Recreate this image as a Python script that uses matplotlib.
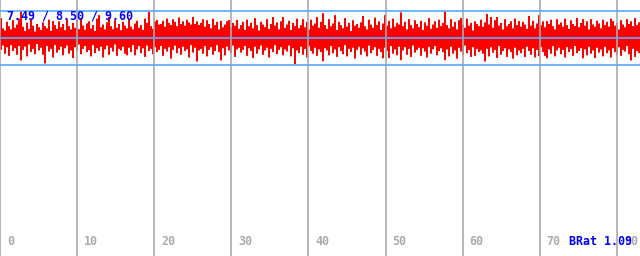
import matplotlib
matplotlib.use("Agg")
import matplotlib.pyplot as plt
import numpy as np

# peak amplitude per sample, in percent of full scale (blue line = 100)
upper = [
    72, 34, 26, 58, 42, 30, 64, 36, 48, 70, 97, 40, 24, 55, 32, 70, 44, 22, 50, 38,
    28, 56, 42, 34, 66, 25, 61, 46, 32, 60, 38, 50, 27, 68, 42, 30, 54, 36, 64, 31,
    72, 44, 29, 52, 60, 33, 46, 24, 70, 83, 38, 48, 30, 56, 76, 42, 31, 64, 36, 50,
    27, 58, 44, 34, 68, 40, 30, 52, 62, 36, 46, 28, 70, 54, 96, 42, 32, 60, 65, 48,
    50, 62, 40, 70, 54, 46, 68, 58, 42, 74, 50, 60, 44, 66, 56, 48, 76, 50, 60, 46,
    54, 68, 40, 64, 50, 34, 70, 46, 58, 30, 62, 38, 48, 60, 65, 36, 54, 44, 65, 32,
    46, 58, 28, 66, 42, 54, 34, 72, 46, 26, 58, 48, 38, 68, 32, 50, 76, 44, 56, 30,
    60, 76, 36, 48, 62, 28, 54, 42, 70, 34, 46, 68, 38, 58, 30, 66, 44, 52, 76, 36,
    58, 90, 46, 32, 68, 42, 52, 83, 28, 58, 46, 34, 72, 40, 54, 24, 64, 44, 50, 36,
    56, 80, 42, 30, 66, 48, 36, 74, 46, 60, 28, 52, 83, 44, 62, 34, 70, 40, 54, 48,
    93, 42, 58, 30, 68, 46, 34, 64, 50, 38, 62, 28, 56, 44, 72, 32, 48, 60, 36, 66,
    42, 54, 98, 46, 34, 68, 40, 58, 30, 64, 72, 48, 36, 70, 44, 54, 26, 60, 50, 42,
    66, 40, 56, 87, 48, 76, 36, 64, 76, 44, 54, 30, 68, 42, 50, 60, 34, 70, 46, 61,
    40, 58, 48, 32, 80, 44, 62, 34, 52, 83, 46, 60, 38, 61, 50, 66, 42, 30, 68, 48,
    56, 40, 70, 46, 32, 64, 50, 42, 72, 38, 54, 68, 44, 60, 30, 68, 48, 40, 62, 52,
    34, 66, 46, 58, 40, 70, 61, 44, 54, 30, 64, 48, 38, 68, 50, 60, 42, 72, 46, 56,
]
lower = [
    46, 30, 60, 36, 68, 28, 50, 40, 64, 32, 85, 46, 34, 70, 26, 54, 42, 62, 24, 48,
    38, 64, 96, 32, 52, 42, 74, 28, 56, 46, 34, 66, 40, 30, 60, 48, 76, 36, 50, 26,
    62, 42, 32, 54, 46, 70, 28, 58, 40, 50, 34, 74, 44, 30, 64, 38, 52, 26, 68, 42,
    48, 34, 60, 66, 38, 54, 28, 66, 44, 32, 58, 40, 72, 30, 50, 42, 62, 36, 54, 46,
    32, 68, 42, 52, 36, 78, 46, 30, 58, 40, 64, 34, 50, 44, 74, 28, 56, 38, 89, 48,
    42, 60, 32, 70, 46, 36, 64, 50, 28, 54, 85, 40, 66, 34, 48, 58, 30, 72, 44, 38,
    56, 46, 32, 68, 40, 50, 76, 34, 60, 44, 30, 64, 48, 38, 74, 42, 54, 28, 62, 46,
    36, 66, 44, 52, 30, 70, 40, 99, 48, 58, 34, 64, 42, 74, 32, 50, 60, 38, 68, 44,
    54, 88, 40, 48, 66, 32, 58, 44, 72, 36, 50, 62, 28, 70, 42, 54, 38, 78, 46, 34,
    64, 40, 52, 70, 30, 58, 46, 36, 68, 42, 54, 77, 38, 50, 76, 32, 60, 44, 66, 34,
    84, 48, 36, 64, 42, 72, 30, 56, 46, 38, 68, 40, 52, 74, 34, 60, 44, 32, 66, 50,
    40, 54, 84, 44, 70, 34, 60, 48, 78, 38, 52, 64, 30, 58, 46, 72, 36, 68, 42, 54,
    48, 60, 89, 42, 70, 36, 56, 46, 76, 32, 64, 50, 40, 72, 44, 54, 78, 38, 66, 48,
    58, 42, 72, 34, 50, 64, 40, 74, 46, 69, 36, 54, 68, 77, 44, 60, 32, 70, 48, 38,
    62, 46, 74, 36, 54, 42, 68, 32, 58, 50, 40, 77, 44, 66, 34, 60, 48, 76, 38, 56,
    44, 70, 34, 58, 48, 74, 40, 54, 64, 36, 68, 46, 52, 32, 62, 85, 42, 72, 50, 58,
]
time_ticks = [0, 10, 20, 30, 40, 50, 60, 70, 80]
stats_text = "7.49 / 8.50 / 9.60"
brat_text = "BRat 1.09"

XMAX = 83.0
PX = 27.0  # pixels per unit amplitude
YTOP = 1 + 10.5 / PX
YBOT = YTOP - 256 / PX

fig = plt.figure(figsize=(6.4, 2.56), dpi=100)
ax = fig.add_axes([0, 0, 1, 1])
ax.set_xlim(0, XMAX)
ax.set_ylim(YBOT, YTOP)
ax.axis("off")

n = len(upper)
x = np.arange(n + 1) * XMAX / n
up = np.array(upper + [upper[-1]]) / 100
lo = np.array(lower + [lower[-1]]) / 100
ax.fill_between(x, 0, up, step="post", color="#ff0000", lw=0)
ax.fill_between(x, -lo, 0, step="post", color="#ff0000", lw=0)

for t in time_ticks:
    ax.axvline(t, color="#aaaaaa", lw=1.2, zorder=1)
    ax.text(t + 0.9, YTOP - 245 / PX, str(t), color="#aaaaaa", fontsize=8.4,
            family="DejaVu Sans Mono", fontweight="bold", va="baseline")

for yv in [1, 0, -1]:
    ax.axhline(yv, color="#55aaff", lw=1.2, zorder=3)

ax.text(0.9, YTOP - 19 / PX, stats_text, color="#0000ff", fontsize=8.4,
        family="DejaVu Sans Mono", fontweight="bold", va="baseline", zorder=4)
ax.text(73.8, YTOP - 245 / PX, brat_text, color="#0000ff", fontsize=8.4,
        family="DejaVu Sans Mono", fontweight="bold", va="baseline", zorder=4)

fig.savefig("out.png", dpi=100)
